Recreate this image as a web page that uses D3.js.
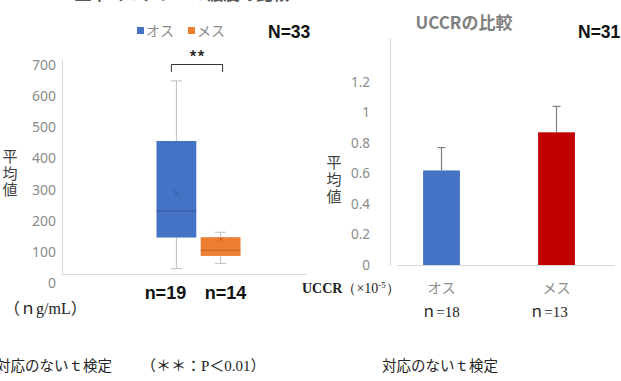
<!DOCTYPE html>
<html>
<head>
<meta charset="utf-8">
<script src="https://cdn.jsdelivr.net/npm/d3@7"></script>
<style>
  body { margin: 0; background: #fff; }
  svg { display: block; font-family: "Noto Sans CJK JP", "Noto Sans", sans-serif; }
</style>
</head>
<body>
<svg id="svg1" width="621" height="381"></svg>
<script>
"use strict";

// left chart: box plot of cortisol (ng/mL)
const boxGroups = ["オス", "メス"];
const boxCounts = ["n=19", "n=14"];
const boxMin = [46, 63];
const boxQ1 = [146, 87];
const boxMedian = [231, 105];
const boxQ3 = [456, 147];
const boxMax = [649, 163];
const boxMean = [290, 140];
const boxTicks = [0, 100, 200, 300, 400, 500, 600, 700];
const boxColors = ["#4472C4", "#ED7D31"];

// right chart: UCCR mean with error bars
const barGroups = ["オス", "メス"];
const barCounts = ["ｎ=18", "ｎ=13"];
const barMeans = [0.62, 0.87];
const barErrors = [0.15, 0.17];
const barTicks = [0, 0.2, 0.4, 0.6, 0.8, 1, 1.2];
const barColors = ["#4472C4", "#C00000"];

let svg = d3.select("#svg1");
let axisGray = "#d9d9d9";
let tickGray = "#8c8c8c";

// vertical y title, one text with a tspan per character
function verticalTitle(x, y, step) {
    let t = svg.append("text").attr("text-anchor", "middle").style("font-size", "15px").attr("fill", "#404040");
    ["平", "均", "値"].forEach((c, i) => {
        t.append("tspan").attr("x", x).attr("y", y + i * step).text(c);
    });
}

// ---------- left chart ----------
let yL = d3.scaleLinear().domain([0, 700]).range([283, 65]);
let xL = d3.scaleBand().domain(boxGroups).range([156.5, 240.5]).paddingInner(0.1);

// title (cut off at top of the picture)
svg.append("text").attr("x", 182).attr("y", -0.5).attr("text-anchor", "middle")
    .style("font-size", "16.5px").style("font-weight", "bold").attr("fill", "#595959")
    .text("血中コルチゾール濃度の比較");

// legend
boxGroups.forEach((g, i) => {
    let lx = 137 + i * 51;
    svg.append("rect").attr("x", lx).attr("y", 27).attr("width", 7).attr("height", 7).attr("fill", boxColors[i]);
    svg.append("text").attr("x", lx + 9).attr("y", 36).style("font-size", "14px").attr("fill", tickGray).text(g);
});
svg.append("text").attr("x", 268).attr("y", 38).style("font-size", "17.5px").style("font-weight", "bold")
    .style("font-family", "'Liberation Sans', Arial, sans-serif").attr("fill", "#111").text("N=33");

// frame lines
svg.append("line").attr("x1", 62.5).attr("x2", 62.5).attr("y1", 60).attr("y2", 275).attr("stroke", axisGray);
svg.append("line").attr("x1", 62).attr("x2", 307).attr("y1", 274.5).attr("y2", 274.5).attr("stroke", axisGray);

// y axis labels
let gL = svg.append("g").attr("transform", "translate(56,0)")
    .call(d3.axisLeft(yL).tickValues(boxTicks).tickSize(0).tickPadding(0));
gL.select(".domain").remove();
gL.selectAll("text").style("font-size", "14px").style("font-family", "'Noto Sans', sans-serif").attr("fill", tickGray);

verticalTitle(10, 162, 16.5);

// boxes
let countShift = [-11, 5];
boxGroups.forEach((g, i) => {
    let x0 = xL(g), bw = xL.bandwidth(), cx = x0 + bw / 2;
    let capW = 5.5;
    svg.append("line").attr("x1", cx).attr("x2", cx).attr("y1", yL(boxMax[i])).attr("y2", yL(boxQ3[i])).attr("stroke", "#bfbfbf");
    svg.append("line").attr("x1", cx).attr("x2", cx).attr("y1", yL(boxQ1[i])).attr("y2", yL(boxMin[i])).attr("stroke", "#bfbfbf");
    [boxMax[i], boxMin[i]].forEach(v => {
        svg.append("line").attr("x1", cx - capW).attr("x2", cx + capW).attr("y1", yL(v)).attr("y2", yL(v)).attr("stroke", "#bfbfbf");
    });
    svg.append("rect").attr("x", x0).attr("y", yL(boxQ3[i])).attr("width", bw)
        .attr("height", yL(boxQ1[i]) - yL(boxQ3[i])).attr("fill", boxColors[i]);
    svg.append("line").attr("x1", x0).attr("x2", x0 + bw).attr("y1", yL(boxMedian[i])).attr("y2", yL(boxMedian[i]))
        .attr("stroke", d3.color(boxColors[i]).darker(0.6)).attr("stroke-width", 1);
    let my = yL(boxMean[i]), s = 2.5;
    svg.append("path").attr("d", `M${cx - s},${my - s}L${cx + s},${my + s}M${cx - s},${my + s}L${cx + s},${my - s}`)
        .attr("stroke", d3.color(boxColors[i]).darker(0.8)).attr("stroke-width", 0.8);
    svg.append("text").attr("x", cx + countShift[i]).attr("y", 299).attr("text-anchor", "middle")
        .style("font-size", "18px").style("font-weight", "bold").style("font-family", "'Liberation Sans', sans-serif")
        .attr("fill", "#111").text(boxCounts[i]);
});

// significance bracket
let bx1 = xL(boxGroups[0]) + xL.bandwidth() / 2 - 5, bx2 = xL(boxGroups[1]) + xL.bandwidth() / 2 + 2;
svg.append("path").attr("d", `M${bx1},72V64.5H${bx2}V72`).attr("fill", "none").attr("stroke", "#333").attr("stroke-width", 1);
svg.append("text").attr("x", (bx1 + bx2) / 2).attr("y", 63).attr("text-anchor", "middle")
    .style("font-size", "16px").style("font-weight", "bold").attr("fill", "#333").text("**");

// footers
svg.append("text").attr("x", 4).attr("y", 314).style("font-size", "16px")
    .style("font-family", "'Liberation Serif', 'Noto Sans CJK JP', serif").attr("fill", "#222").text("（ｎg/mL）");
svg.append("text").attr("x", -4).attr("y", 371).style("font-size", "14.5px").attr("fill", "#222").text("対応のないｔ検定");
svg.append("text").attr("x", 141).attr("y", 371).style("font-size", "15px")
    .style("font-family", "'Liberation Serif', 'Noto Sans CJK JP', serif").attr("fill", "#222").text("（＊＊：P＜0.01）");

// ---------- right chart ----------
let yR = d3.scaleLinear().domain([0, 1.4]).range([265, 51.5]);
let xR = d3.scaleBand().domain(barGroups).range([384, 614]).paddingInner(0.68).paddingOuter(0.34);

svg.append("text").attr("x", 464).attr("y", 29).attr("text-anchor", "middle")
    .style("font-size", "17px").style("font-weight", "bold").attr("fill", "#7f7f7f").text("UCCRの比較");
svg.append("text").attr("x", 578).attr("y", 38).style("font-size", "17.5px").style("font-weight", "bold")
    .style("font-family", "'Liberation Sans', Arial, sans-serif").attr("fill", "#111").text("N=31");

svg.append("line").attr("x1", 390.5).attr("x2", 390.5).attr("y1", 38).attr("y2", 266).attr("stroke", axisGray);
svg.append("line").attr("x1", 397).attr("x2", 615).attr("y1", 265.5).attr("y2", 265.5).attr("stroke", axisGray);

let gR = svg.append("g").attr("transform", "translate(370,0)")
    .call(d3.axisLeft(yR).tickValues(barTicks).tickSize(0).tickPadding(0).tickFormat(d3.format("~g")));
gR.select(".domain").remove();
gR.selectAll("text").style("font-size", "13.5px").style("font-family", "'Noto Sans', sans-serif").attr("fill", tickGray);

verticalTitle(334, 168, 17);

let nShift = [-1, -8];
barGroups.forEach((g, i) => {
    let x0 = xR(g), bw = xR.bandwidth(), cx = x0 + bw / 2;
    svg.append("line").attr("x1", cx).attr("x2", cx).attr("y1", yR(barMeans[i])).attr("y2", yR(barMeans[i] + barErrors[i]))
        .attr("stroke", "#7f7f7f").attr("stroke-width", 1.2);
    svg.append("line").attr("x1", cx - 4).attr("x2", cx + 4)
        .attr("y1", yR(barMeans[i] + barErrors[i])).attr("y2", yR(barMeans[i] + barErrors[i]))
        .attr("stroke", "#7f7f7f").attr("stroke-width", 1.2);
    svg.append("rect").attr("x", x0).attr("y", yR(barMeans[i])).attr("width", bw)
        .attr("height", yR(0) - yR(barMeans[i])).attr("fill", barColors[i]);
    svg.append("text").attr("x", cx).attr("y", 293).attr("text-anchor", "middle")
        .style("font-size", "14px").attr("fill", tickGray).text(g);
    svg.append("text").attr("x", cx + nShift[i]).attr("y", 317).attr("text-anchor", "middle")
        .style("font-size", "15px").style("font-family", "'Liberation Serif', 'Noto Sans CJK JP', serif")
        .attr("fill", "#222").text(barCounts[i]);
});

// unit label
let u = svg.append("text").attr("x", 302).attr("y", 293).style("font-family", "'Liberation Serif', serif")
    .attr("fill", "#222").style("font-size", "14px");
u.append("tspan").style("font-weight", "bold").text("UCCR");
u.append("tspan").text("（×10");
u.append("tspan").attr("dy", -5).style("font-size", "9px").text("-5");
u.append("tspan").attr("dy", 5).text("）");

svg.append("text").attr("x", 382).attr("y", 371).style("font-size", "14.5px").attr("fill", "#222").text("対応のないｔ検定");
</script>
</body>
</html>
